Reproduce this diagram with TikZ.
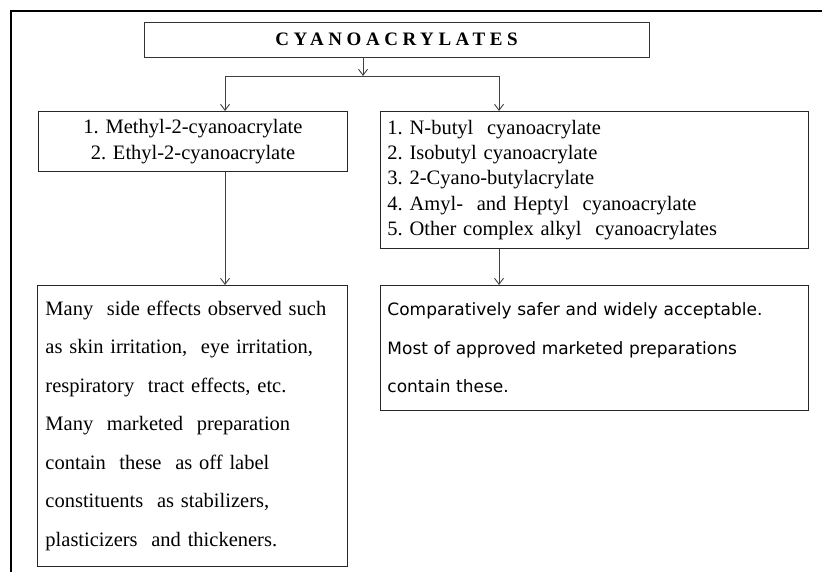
\documentclass[tikz,border=0pt]{standalone}
\usepackage{fontspec}
\setmainfont{Liberation Serif}
\newfontfamily\boxsans{DejaVu Sans}
\newfontfamily\titlefont{Liberation Serif Bold}[LetterSpace=24]
\frenchspacing
\usetikzlibrary{arrows.meta,positioning}
\tikzset{
  mybox/.style = {rectangle, draw=black!85, line width=0.9pt, anchor=north west, inner xsep=8pt, inner ysep=0pt},
  mytitle/.style = {rectangle, draw=black!80, line width=0.9pt, minimum width=505pt, minimum height=35pt, font=\titlefont\fontsize{19}{22}\selectfont},
  mylist/.style = {font=\fontsize{20.5}{25.4}\selectfont},
  mywide/.style = {font=\fontsize{20.5}{38.5}\selectfont},
  mysans/.style = {font=\boxsans\fontsize{17}{38.5}\selectfont},
  myline/.style = {line width=0.9pt, draw=black!75},
  myarrow/.style = {-{Straight Barb[length=6pt,width=9pt]}, line width=0.9pt, draw=black!75},
  myframe/.style = {line width=2pt, draw=black},
}

\begin{document}
\begin{tikzpicture}[x=1pt, y=-1pt]
\useasboundingbox (0,0) rectangle (822,572);
\draw[myframe] (11,572) |- (822,11);
% title and the two groups
\node[mytitle] (cya) at (396.5,39.5) {CYANOACRYLATES};
\node[mybox, mylist, text width=293pt, align=center, minimum height=60pt] (mc) at (38,111)
  {1. Methyl-2-cyanoacrylate\\2. Ethyl-2-cyanoacrylate};
\node[mybox, mylist, inner xsep=7pt, text width=414pt, align=left, minimum height=137pt] (bc) at (380,111)
  {1. N-butyl\ \ cyanoacrylate\\2. Isobutyl cyanoacrylate\\3. 2-Cyano-butylacrylate\\4. Amyl-\ \ and Heptyl\ \ cyanoacrylate\\5. Other complex alkyl\ \ cyanoacrylates};
% remarks
\node[mybox, mywide, text width=294pt, align=left, minimum height=281pt] (side) at (37,285)
  {Many\ \ side effects observed such\\as skin irritation,\ \ eye irritation,\\respiratory\ \ tract effects, etc.\\Many\ \ marketed\ \ preparation\\contain\ \ these\ \ as off label\\constituents\ \ as stabilizers,\\plasticizers\ \ and thickeners.};
\node[mybox, mysans, inner xsep=7pt, text width=414pt, align=left, minimum height=125pt] (safe) at (380,285)
  {Comparatively safer and widely acceptable.\\Most of approved marketed preparations\\contain these.};
% connectors
\coordinate (split) at (363,76);
\coordinate (la) at (225,76);
\coordinate (ra) at (499,76);
\draw[myarrow] (cya.south -| split) -- (split);
\draw[myline] (la) -- (ra);
\draw[myarrow] (la) -- (la |- mc.north);
\draw[myarrow] (ra) -- (ra |- bc.north);
\draw[myarrow] (mc.south -| la) -- (side.north -| la);
\draw[myarrow] (bc.south -| ra) -- (safe.north -| ra);
\end{tikzpicture}
\end{document}
